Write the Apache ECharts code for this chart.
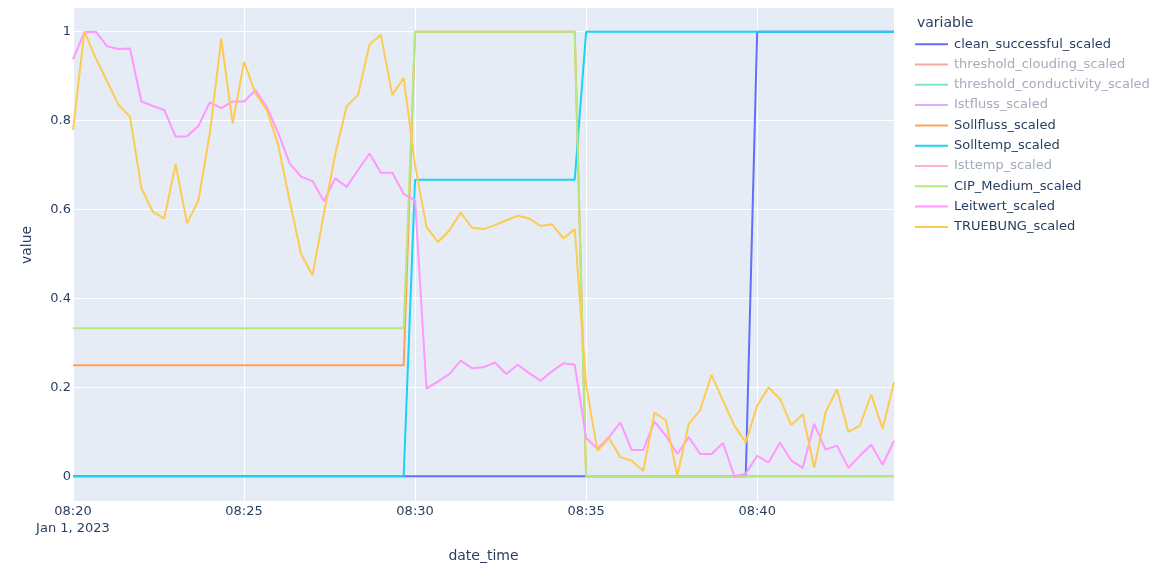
<!DOCTYPE html>
<html>
<head>
<meta charset="utf-8">
<script src="https://cdn.jsdelivr.net/npm/echarts@6/dist/echarts.min.js"></script>
<style>
  html, body { margin: 0; padding: 0; background: #fff; }
  #chart { width: 1153px; height: 564px; }
</style>
</head>
<body>
<div id="chart"></div>
<script>
const times = ["08:20:00","08:20:20","08:20:40","08:21:00","08:21:20","08:21:40","08:22:00","08:22:20","08:22:40","08:23:00","08:23:20","08:23:40","08:24:00","08:24:20","08:24:40","08:25:00","08:25:20","08:25:40","08:26:00","08:26:20","08:26:40","08:27:00","08:27:20","08:27:40","08:28:00","08:28:20","08:28:40","08:29:00","08:29:20","08:29:40","08:30:00","08:30:20","08:30:40","08:31:00","08:31:20","08:31:40","08:32:00","08:32:20","08:32:40","08:33:00","08:33:20","08:33:40","08:34:00","08:34:20","08:34:40","08:35:00","08:35:20","08:35:40","08:36:00","08:36:20","08:36:40","08:37:00","08:37:20","08:37:40","08:38:00","08:38:20","08:38:40","08:39:00","08:39:20","08:39:40","08:40:00","08:40:20","08:40:40","08:41:00","08:41:20","08:41:40","08:42:00","08:42:20","08:42:40","08:43:00","08:43:20","08:43:40","08:44:00"];

const clean_successful_scaled = [0,0,0,0,0,0,0,0,0,0, 0,0,0,0,0,0,0,0,0,0, 0,0,0,0,0,0,0,0,0,0, 0,0,0,0,0,0,0,0,0,0, 0,0,0,0,0,0,0,0,0,0, 0,0,0,0,0,0,0,0,0,0, 1,1,1,1,1,1,1,1,1,1, 1,1,1];
const threshold_clouding_scaled = [];
const threshold_conductivity_scaled = [];
const Istfluss_scaled = [];
const Sollfluss_scaled = [0.25,0.25,0.25,0.25,0.25,0.25,0.25,0.25,0.25,0.25, 0.25,0.25,0.25,0.25,0.25,0.25,0.25,0.25,0.25,0.25, 0.25,0.25,0.25,0.25,0.25,0.25,0.25,0.25,0.25,0.25, 1,1,1,1,1,1,1,1,1,1, 1,1,1,1,1,0,0,0,0,0, 0,0,0,0,0,0,0,0,0,0, 0,0,0,0,0,0,0,0,0,0, 0,0,0];
const Solltemp_scaled = [0,0,0,0,0,0,0,0,0,0, 0,0,0,0,0,0,0,0,0,0, 0,0,0,0,0,0,0,0,0,0, 0.667,0.667,0.667,0.667,0.667,0.667,0.667,0.667,0.667,0.667, 0.667,0.667,0.667,0.667,0.667,1,1,1,1,1, 1,1,1,1,1,1,1,1,1,1, 1,1,1,1,1,1,1,1,1,1, 1,1,1];
const Isttemp_scaled = [];
const CIP_Medium_scaled = [0.333,0.333,0.333,0.333,0.333,0.333,0.333,0.333,0.333,0.333, 0.333,0.333,0.333,0.333,0.333,0.333,0.333,0.333,0.333,0.333, 0.333,0.333,0.333,0.333,0.333,0.333,0.333,0.333,0.333,0.333, 1,1,1,1,1,1,1,1,1,1, 1,1,1,1,1,0,0,0,0,0, 0,0,0,0,0,0,0,0,0,0, 0,0,0,0,0,0,0,0,0,0, 0,0,0];
const Leitwert_scaled = [0.938,0.999,1.0,0.967,0.961,0.962,0.843,0.833,0.824,0.764,
  0.765,0.788,0.841,0.828,0.843,0.843,0.869,0.83,0.772,0.704,
  0.674,0.664,0.619,0.67,0.651,0.689,0.726,0.683,0.683,0.635,
  0.62,0.197,0.213,0.23,0.26,0.243,0.245,0.256,0.23,0.251,
  0.232,0.215,0.236,0.254,0.251,0.086,0.062,0.088,0.121,0.059,
  0.059,0.123,0.091,0.05,0.088,0.05,0.05,0.075,0.0,0.006,
  0.046,0.031,0.076,0.035,0.019,0.118,0.06,0.069,0.019,0.046,
  0.071,0.026,0.08];
const TRUEBUNG_scaled = [0.779,1.0,0.94,0.888,0.835,0.809,0.648,0.595,0.58,0.702,
  0.569,0.621,0.772,0.984,0.794,0.932,0.862,0.824,0.745,0.62,
  0.5,0.452,0.59,0.725,0.832,0.858,0.971,0.993,0.858,0.896,
  0.70,0.561,0.527,0.553,0.593,0.559,0.556,0.565,0.576,0.586,
  0.58,0.563,0.567,0.535,0.556,0.205,0.057,0.086,0.043,0.035,
  0.012,0.143,0.126,0.001,0.118,0.149,0.228,0.17,0.114,0.076,
  0.159,0.2,0.174,0.115,0.14,0.019,0.144,0.196,0.1,0.114,
  0.184,0.107,0.211];

const seriesNames = ["clean_successful_scaled","threshold_clouding_scaled","threshold_conductivity_scaled","Istfluss_scaled","Sollfluss_scaled","Solltemp_scaled","Isttemp_scaled","CIP_Medium_scaled","Leitwert_scaled","TRUEBUNG_scaled"];
const seriesValues = [clean_successful_scaled, threshold_clouding_scaled, threshold_conductivity_scaled, Istfluss_scaled, Sollfluss_scaled, Solltemp_scaled, Isttemp_scaled, CIP_Medium_scaled, Leitwert_scaled, TRUEBUNG_scaled];
const hiddenNames = ["threshold_clouding_scaled","threshold_conductivity_scaled","Istfluss_scaled","Isttemp_scaled"];
const colors = ["#636EFA","#EF553B","#00CC96","#AB63FA","#FFA15A","#19D3F3","#FF6692","#B6E880","#FF97FF","#FECB52"];
const fadedColors = ["#B1B6FC","#F7AA9D","#80E6CB","#D5B1FD","#FFD0AD","#8CE9F9","#FFB3C9","#DBF4C0","#FFCBFF","#FEE5A9"];
const xTickStart = "08:20:00";
const xTickEnd = "08:44:00";
const xTickStepMinutes = 5;
const dateLabel = "Jan 1, 2023";

function toMs(t) {
  const p = t.split(":").map(Number);
  return Date.UTC(2023, 0, 1, p[0], p[1], p[2]);
}
function pad(n) { return (n < 10 ? "0" : "") + n; }

const fontFamily = '"DejaVu Sans", Verdana, sans-serif';
const textColor = "#2a3f5f";

const series = seriesNames.map((name, k) => ({
  name: name,
  type: "line",
  data: seriesValues[k].map((v, i) => [toMs(times[i]), v]),
  showSymbol: false,
  symbol: "none",
  lineStyle: { width: 2, color: colors[k] },
  itemStyle: { color: colors[k] },
  emphasis: { disabled: true },
  animation: false
}));

const legendData = seriesNames.map((name, k) => {
  const hidden = hiddenNames.indexOf(name) >= 0;
  return {
    name: name,
    icon: "rect",
    itemStyle: { color: hidden ? fadedColors[k] : colors[k] },
    textStyle: { color: hidden ? "#a3acbb" : textColor }
  };
});

const chart = echarts.init(document.getElementById("chart"), null, { renderer: "canvas" });
chart.setOption({
  animation: false,
  backgroundColor: "#ffffff",
  textStyle: { fontFamily: fontFamily },
  title: {
    text: "variable",
    left: 912,
    top: 11,
    textStyle: { fontSize: 14, fontWeight: "normal", color: textColor, fontFamily: fontFamily }
  },
  graphic: [{
    type: "text",
    x: 27,
    y: 245,
    rotation: Math.PI / 2,
    style: { text: "value", fill: textColor, font: '14px "DejaVu Sans", Verdana, sans-serif', align: "center", verticalAlign: "middle" }
  }],
  legend: {
    orient: "vertical",
    left: 915,
    top: 36.2,
    padding: 0,
    itemWidth: 33,
    itemHeight: 2,
    itemGap: 4.3,
    selectedMode: false,
    textStyle: { fontSize: 13, color: textColor, fontFamily: fontFamily, lineHeight: 16, padding: [0, 0, 0, 1] },
    data: legendData
  },
  grid: {
    left: 73, right: 259, top: 7, bottom: 63,
    outerBoundsMode: "none",
    containLabel: false,
    show: true, backgroundColor: "#E5ECF6", borderWidth: 0
  },
  xAxis: {
    type: "value",
    min: toMs(xTickStart),
    max: toMs(xTickEnd),
    interval: xTickStepMinutes * 60000,
    name: "date_time",
    nameLocation: "middle",
    nameGap: 48,
    nameTextStyle: { fontSize: 14, color: textColor, fontFamily: fontFamily },
    axisLine: { show: false },
    axisTick: { show: false },
    splitLine: { show: true, lineStyle: { color: "#ffffff", width: 1 } },
    axisLabel: {
      margin: 2,
      fontSize: 13,
      color: textColor,
      fontFamily: fontFamily,
      lineHeight: 17,
      showMaxLabel: false,
      formatter: function (v) {
        const d = new Date(v);
        const s = pad(d.getUTCHours()) + ":" + pad(d.getUTCMinutes());
        return v === toMs(xTickStart) ? s + "\n" + dateLabel : s;
      }
    }
  },
  yAxis: {
    type: "value",
    min: -0.0556,
    max: 1.0556,
    axisLine: { show: false },
    axisTick: { show: false },
    splitLine: { show: true, lineStyle: { color: "#ffffff", width: 1 } },
    axisLabel: {
      margin: 2,
      fontSize: 13,
      color: textColor,
      fontFamily: fontFamily,
      showMinLabel: false,
      showMaxLabel: false,
      formatter: function (v) {
        const r = Math.round(v * 10) / 10;
        if (Math.abs(r - v) > 1e-6) return "";
        return String(r);
      }
    }
  },
  series: series
});
</script>
</body>
</html>
